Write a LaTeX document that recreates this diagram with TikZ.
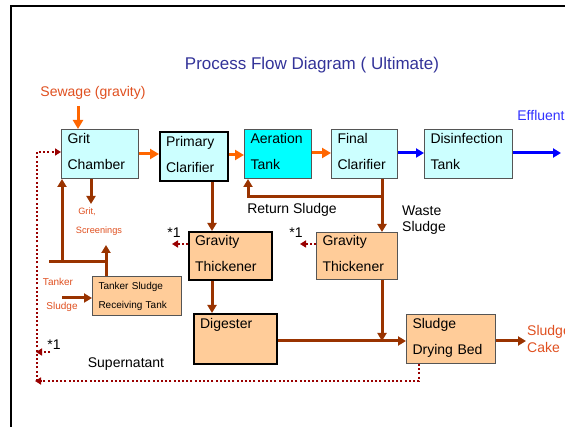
\documentclass[tikz,border=0pt]{standalone}
\usepackage{fontspec}
\setmainfont{Liberation Sans}
\usetikzlibrary{arrows.meta,calc}
\definecolor{lcyan}{HTML}{CCFFFF}
\definecolor{acyan}{HTML}{00FFFF}
\definecolor{peach}{HTML}{FFCC99}
\definecolor{bordergray}{HTML}{555555}
\definecolor{orarrow}{HTML}{FF6600}
\definecolor{brown}{HTML}{993300}
\definecolor{maroon}{HTML}{990000}
\definecolor{lblred}{RGB}{224,80,32}
\definecolor{titleblue}{HTML}{333399}
\definecolor{efblue}{RGB}{50,50,255}
\newcommand\bigstrut{\rule[-6pt]{0pt}{17pt}}
\newcommand\smallstrut{\rule[-4pt]{0pt}{14pt}}
\tikzset{
  box/.style={draw=bordergray, line width=1pt, anchor=north west, inner xsep=6pt, inner ysep=0pt,
    align=left, font=\fontsize{14}{26}\selectfont},
  thickbox/.style={box, draw=black, line width=2.2pt},
  oarr/.style={draw=orarrow, line width=3pt, -{Triangle[length=9pt,width=10pt]}},
  barr/.style={draw=brown, line width=3pt, -{Triangle[length=8pt,width=9pt]}},
  bline/.style={draw=brown, line width=3pt},
  blarr/.style={draw=blue, line width=3pt, -{Triangle[length=8pt,width=9pt]}},
  darr/.style={draw=maroon, line width=2.5pt, dash pattern=on 2pt off 2.2pt, -{Triangle[length=6pt,width=7pt]}},
  dline/.style={draw=maroon, line width=2.5pt, dash pattern=on 2pt off 2.2pt},
  lbl/.style={inner sep=0pt, font=\fontsize{14}{17}\selectfont},
  rlbl/.style={lbl, text=lblred},
  slbl/.style={inner sep=0pt, text=lblred, font=\fontsize{9.2}{11}\selectfont},
  tlbl/.style={inner sep=0pt, text=lblred, font=\fontsize{10}{12}\selectfont},
}
\begin{document}
\begin{tikzpicture}[x=1pt,y=-1pt]
\useasboundingbox (0,0) rectangle (565,427);
\clip (0,0) rectangle (565,427);
\fill[white] (0,0) rectangle (565,427);
% frame
\draw[line width=2pt] (11,440) -- (11,6) -- (580,6);
% title
\node[inner sep=0pt, text=titleblue, font=\fontsize{17}{20}\selectfont] (title) at (312,65) {Process Flow Diagram ( Ultimate)};
% boxes
\node[box, fill=lcyan, text width=65pt, minimum height=49pt] (grit) at (61,129) {\bigstrut Grit\\\bigstrut Chamber};
\node[thickbox, fill=lcyan, text width=56pt, minimum height=49pt] (prim) at (159,131) {\bigstrut Primary\\\bigstrut Clarifier};
\node[box, fill=acyan, text width=55pt, minimum height=49pt] (aer) at (244,129) {\bigstrut Aeration\\\bigstrut Tank};
\node[box, fill=lcyan, text width=54pt, minimum height=49pt] (fin) at (331,129) {\bigstrut Final\\\bigstrut Clarifier};
\node[box, fill=lcyan, text width=76pt, minimum height=49pt] (dis) at (424,129) {\bigstrut Disinfection\\\bigstrut Tank};
\node[thickbox, fill=peach, text width=71pt, minimum height=48pt] (gt1) at (188,231) {\bigstrut Gravity\\\bigstrut Thickener};
\node[box, fill=peach, text width=69pt, minimum height=47pt] (gt2) at (316,232) {\bigstrut Gravity\\\bigstrut Thickener};
\node[thickbox, fill=peach, text width=71pt, minimum height=50pt] (dig) at (193,313) {\bigstrut Digester\\\bigstrut};
\node[box, fill=peach, text width=77pt, minimum height=49pt] (dry) at (406,314) {\bigstrut Sludge\\\bigstrut Drying Bed};
\node[box, fill=peach, text width=77pt, minimum height=39pt, font=\fontsize{10}{19.5}\selectfont] (tank) at (92,276) {\smallstrut Tanker Sludge\\\smallstrut Receiving Tank};
% labels
\node[rlbl] (sew) at (93,93) {Sewage (gravity)};
\node[lbl, text=efblue] (eff) at (541,116) {Effluent};
\node[lbl] (ret) at (292,210) {Return Sludge};
\node[lbl, anchor=west, align=left, font=\fontsize{14}{16}\selectfont] (waste) at (402,220) {Waste\\Sludge};
\node[rlbl, anchor=west, align=left, font=\fontsize{14}{17}\selectfont] (cake) at (527,339) {Sludge\\Cake};
\node[lbl] (sup) at (126,364) {Supernatant};
\node[slbl] (gritlbl) at (87,212) {Grit,};
\node[slbl] (scrlbl) at (99,231) {Screenings};
\node[tlbl] (tk1) at (58,282) {Tanker};
\node[tlbl] (tk2) at (62,307) {Sludge};
\node[lbl] (s1a) at (174,233) {*1};
\node[lbl] (s1b) at (296,233) {*1};
\node[lbl] (s1c) at (54,345) {*1};
% coordinates
\coordinate (sewin) at (78,106);
\coordinate (effout) at (561,153);
\coordinate (retj) at (382,197);
\coordinate (retl) at (248,197);
\coordinate (digj) at (382,341);
\coordinate (cakein) at (526,341);
\coordinate (gsout) at (91,204);
\coordinate (tkup) at (106,245);
\coordinate (hl) at (49,262);
\coordinate (hr) at (106,262);
\coordinate (gritup) at (62,262);
\coordinate (tkin) at (62,298);
\coordinate (supc) at (419,381);
\coordinate (supend) at (35,381);
\coordinate (vbot) at (37,381);
\coordinate (vtop) at (37,152);
\coordinate (a1) at (172,244);
\coordinate (a2) at (300,244);
\coordinate (a3s) at (50,352);
\coordinate (a3e) at (36,352);
% orange
\draw[oarr] (sewin) -- (sewin |- grit.north);
\draw[oarr] (grit.east |- 0,154) -- (prim.west |- 0,154);
\draw[oarr] (prim.east |- 0,155) -- (aer.west |- 0,155);
\draw[oarr] (aer.east |- 0,153) -- (fin.west |- 0,153);
% blue
\draw[blarr] (fin.east |- 0,153) -- (dis.west |- 0,153);
\draw[blarr] (dis.east |- 0,153) -- (effout);
% brown
\draw[barr] (prim.south -| 212,0) -- (gt1.north -| 212,0);
\draw[barr] (retj |- fin.south) -- (retj) -- (retl) -- (retl |- aer.south);
\draw[barr] (retj |- fin.south) -- (retj |- gt2.north);
\draw[barr] (gt1.south -| 212,0) -- (dig.north -| 212,0);
\draw[barr] (dig.east |- digj) -- (dry.west |- digj);
\draw[barr] (gt2.south -| digj) -- (digj);
\draw[barr] (dry.east |- cakein) -- (cakein);
\draw[barr] (grit.south -| gsout) -- (gsout);
\draw[barr] (tank.north -| tkup) -- (tkup);
\draw[bline] (hl) -- (hr);
\draw[barr] (gritup) -- (gritup |- grit.south);
\draw[barr] (tkin) -- (tkin -| tank.west);
% dotted
\draw[darr] (dry.south -| supc) -- (supc) -- (supend);
\draw[darr] (vbot) -- (vtop) -- (vtop -| grit.west);
\draw[darr] (gt1.west |- a1) -- (a1);
\draw[darr] (gt2.west |- a2) -- (a2);
\draw[darr] (a3s) -- (a3e);
\end{tikzpicture}
\end{document}
